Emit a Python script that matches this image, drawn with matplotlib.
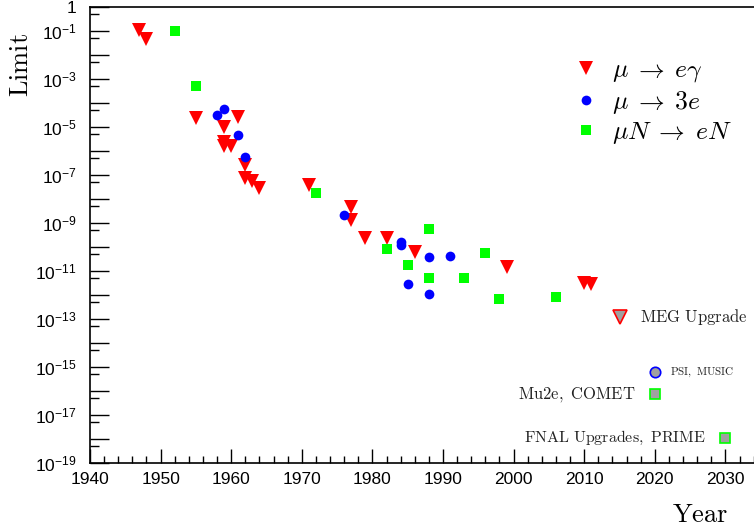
import matplotlib
matplotlib.use("Agg")
import matplotlib.pyplot as plt
from matplotlib.ticker import FixedLocator, NullFormatter

plt.rcParams['font.family'] = ['Liberation Sans', 'DejaVu Sans']
plt.rcParams['mathtext.fontset'] = 'custom'
plt.rcParams['mathtext.rm'] = 'Liberation Sans'
plt.rcParams['mathtext.it'] = 'Liberation Sans:italic'
plt.rcParams['mathtext.bf'] = 'Liberation Sans:bold'

# ---- data ----
meg_years = [1947, 1948, 1955, 1959, 1959, 1959, 1960, 1961, 1962, 1962, 1963, 1964,
             1971, 1977, 1977, 1979, 1982, 1986, 1999, 2010, 2011]
meg_vals = [1.1e-1, 4.5e-2, 2.2e-5, 1.0e-5, 2.4e-6, 1.5e-6, 1.5e-6, 2.6e-5, 2.5e-7, 7.5e-8, 5.5e-8, 2.7e-8,
            3.7e-8, 4.6e-9, 1.3e-9, 2.2e-10, 2.2e-10, 6.3e-11, 1.4e-11, 3.2e-12, 2.8e-12]

m3e_years = [1958, 1959, 1961, 1962, 1976, 1984, 1984, 1985, 1988, 1991, 1988]
m3e_vals = [3.0e-5, 5.5e-5, 4.4e-6, 5.5e-7, 2.1e-9, 1.6e-10, 1.2e-10, 2.7e-12, 3.8e-11, 4.0e-11, 1.1e-12]

conv_years = [1952, 1955, 1972, 1982, 1985, 1988, 1988, 1993, 1996, 1998, 2006]
conv_vals = [1.0e-1, 5.0e-4, 1.7e-8, 7.8e-11, 1.7e-11, 5.3e-10, 5.1e-12, 4.8e-12, 5.3e-11, 6.8e-13, 7.8e-13]

proj_labels = ['MEG Upgrade', 'PSI, MUSIC', 'Mu2e, COMET', 'FNAL Upgrades, PRIME']
proj_years = [2015, 2020, 2020, 2030]
proj_vals = [1.2e-13, 6.0e-16, 7.0e-17, 1.1e-18]

legend_labels = [r'$\mu \;\rightarrow\; e\gamma$', r'$\mu \;\rightarrow\; 3e$', r'$\mu N \;\rightarrow\; eN$']

W, H = 754, 531
fig = plt.figure(figsize=(W / 100, H / 100), dpi=100)
left, right, top, bottom = 90, 754, 6.7, 462.7
ax = fig.add_axes([left / W, (H - bottom) / H, (right - left) / W, (bottom - top) / H])

ax.set_yscale('log')
ax.set_xlim(1940, 2034.05)
ax.set_ylim(1e-19, 1)

RED, BLUE, GREEN, GREY = '#ff0000', '#0000ff', '#00ff00', '#a0a0a0'

h1, = ax.plot(meg_years, meg_vals, linestyle='none', marker='v', ms=9.5, mfc=RED, mec=RED, mew=0)
h2, = ax.plot(m3e_years, m3e_vals, linestyle='none', marker='o', ms=7, mfc=BLUE, mec=BLUE, mew=0)
h3, = ax.plot(conv_years, conv_vals, linestyle='none', marker='s', ms=6.5, mfc=GREEN, mec=GREEN, mew=0)

# projections
proj_styles = [('v', 10, RED), ('o', 7.5, BLUE), ('s', 7.5, GREEN), ('s', 7.5, GREEN)]
proj_offsets = [(15, 'left', 12), (11, 'left', 8), (-14, 'right', 12), (-14, 'right', 11.5)]
for lab, yr, v, (mk, ms, ec), (dx, ha, fs) in zip(proj_labels, proj_years, proj_vals, proj_styles, proj_offsets):
    ax.plot([yr], [v], linestyle='none', marker=mk, ms=ms, mfc=GREY, mec=ec, mew=1.2)
    txt = r'$\mathrm{' + lab.replace(' ', r'\ ') + '}$'
    ax.annotate(txt, xy=(yr, v), xytext=(dx, 0), textcoords='offset points',
                ha=ha, va='center', fontsize=fs, math_fontfamily='cm', color='#222222')

# ticks
exps = list(range(0, -20, -1))
ax.yaxis.set_major_locator(FixedLocator([10.0 ** k for k in exps]))
ax.yaxis.set_minor_locator(FixedLocator([5 * 10.0 ** k for k in exps]))
ylabels = []
for k in exps:
    if k == 0:
        ylabels.append('1')
    elif k % 2:
        ylabels.append(r'$10^{%d}$' % k)
    else:
        ylabels.append('')
ax.set_yticklabels(ylabels)
ax.yaxis.set_minor_formatter(NullFormatter())

ax.set_xticks(list(range(1940, 2031, 10)))
ax.set_xticks(list(range(1940, 2035, 2)), minor=True)

ax.tick_params(axis='y', which='major', direction='in', length=13.7, width=1, pad=9.5, labelsize=12.5)
ax.tick_params(axis='y', which='minor', direction='in', length=6.5, width=1)
ax.tick_params(axis='x', which='major', direction='in', length=10, width=1, pad=7, labelsize=12.5)
ax.tick_params(axis='x', which='minor', direction='in', length=5, width=1)

ax.spines['right'].set_visible(False)
for s in ['top', 'left', 'bottom']:
    ax.spines[s].set_linewidth(1.2)

# axis titles
fig.text(21 / W, 1 - 33 / H, r'$\mathrm{Limit}$', rotation=90, ha='center', va='top',
         fontsize=19, math_fontfamily='cm')
fig.text(728 / W, 1 - 522 / H, r'$\mathrm{Year}$', ha='right', va='baseline',
         fontsize=19, math_fontfamily='cm')

# legend
leg = ax.legend([h1, h2, h3], legend_labels, loc='upper left',
                bbox_to_anchor=(573 / W, 1 - 58 / H), bbox_transform=fig.transFigure,
                frameon=False, fontsize=18.5, handlelength=1.0, handletextpad=0.5,
                labelspacing=0.17, borderpad=0, borderaxespad=0)
for t in leg.get_texts():
    t.set_math_fontfamily('cm')

fig.savefig('out.png', dpi=100)
